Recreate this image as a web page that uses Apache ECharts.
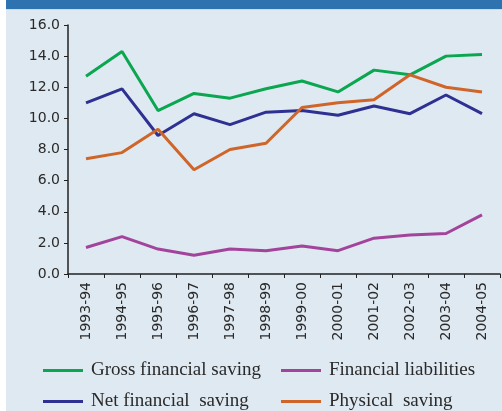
<!DOCTYPE html>
<html><head><meta charset="utf-8">
<script src="https://cdn.jsdelivr.net/npm/echarts@6/dist/echarts.min.js"></script>
<style>html,body{margin:0;padding:0;background:#fff}#c{width:502px;height:411px}</style>
</head><body><div id="c"></div>
<script>
const categories = ['1993-94','1994-95','1995-96','1996-97','1997-98','1998-99','1999-00','2000-01','2001-02','2002-03','2003-04','2004-05'];
const grossFinancialSaving = [12.7,14.3,10.5,11.6,11.3,11.9,12.4,11.7,13.1,12.8,14.0,14.1];
const netFinancialSaving = [11.0,11.9,8.9,10.3,9.6,10.4,10.5,10.2,10.8,10.3,11.5,10.3];
const financialLiabilities = [1.7,2.4,1.6,1.2,1.6,1.5,1.8,1.5,2.3,2.5,2.6,3.8];
const physicalSaving = [7.4,7.8,9.3,6.7,8.0,8.4,10.7,11.0,11.2,12.8,12.0,11.7];
const yTicks = [0,2,4,6,8,10,12,14,16];

const chart = echarts.init(document.getElementById('c'), null, {renderer:'canvas'});
const serif = '"Liberation Serif", "Times New Roman", serif';
const sans = '"DejaVu Sans", Verdana, sans-serif';
function line(name, data, color){
  return {name, type:'line', data, symbol:'none', lineStyle:{color, width:3}, itemStyle:{color}, animation:false};
}
const legendBase = {top:361, orient:'vertical', padding:0, itemGap:12, itemWidth:40, itemHeight:3, icon:'rect',
  textStyle:{fontFamily:serif, fontSize:19, color:'#2a2a2a', padding:[0,0,0,3], lineHeight:19}};
chart.setOption({
  animation:false,
  graphic:[
    {type:'rect', z:-10, shape:{x:6,y:0,width:496,height:411}, style:{fill:'#dfe9f1'}},
    {type:'rect', z:-9, shape:{x:6,y:0,width:496,height:9}, style:{fill:'#2e72b0'}},
    {type:'rect', z:-9, shape:{x:6,y:9,width:496,height:1}, style:{fill:'#c9dcec'}}
  ],
  grid:{left:68, right:2, top:25, bottom:137, containLabel:false},
  xAxis:{type:'category', data:categories, boundaryGap:true,
    axisLine:{lineStyle:{color:'#222', width:1.5}},
    axisTick:{show:true, length:4, alignWithLabel:false, lineStyle:{color:'#222'}},
    axisLabel:{rotate:90, margin:8, color:'#2a2a2a', fontFamily:sans, fontSize:14, interval:0}},
  yAxis:{type:'value', min:0, max:16, interval:2,
    axisLine:{show:true, lineStyle:{color:'#222', width:1.5}},
    axisTick:{show:true, length:4, lineStyle:{color:'#222'}},
    splitLine:{show:false},
    axisLabel:{margin:8, color:'#2a2a2a', fontFamily:sans, fontSize:14,
      formatter:v=> yTicks.includes(v) ? v.toFixed(1) : ''}},
  legend:[
    Object.assign({left:43, data:['Gross financial saving','Net financial  saving']}, legendBase),
    Object.assign({left:281, data:['Financial liabilities','Physical  saving']}, legendBase)
  ],
  series:[
    line('Gross financial saving', grossFinancialSaving, '#0ba650'),
    line('Net financial  saving', netFinancialSaving, '#2e3192'),
    line('Financial liabilities', financialLiabilities, '#a3449c'),
    line('Physical  saving', physicalSaving, '#d0652a')
  ]
});
</script></body></html>
